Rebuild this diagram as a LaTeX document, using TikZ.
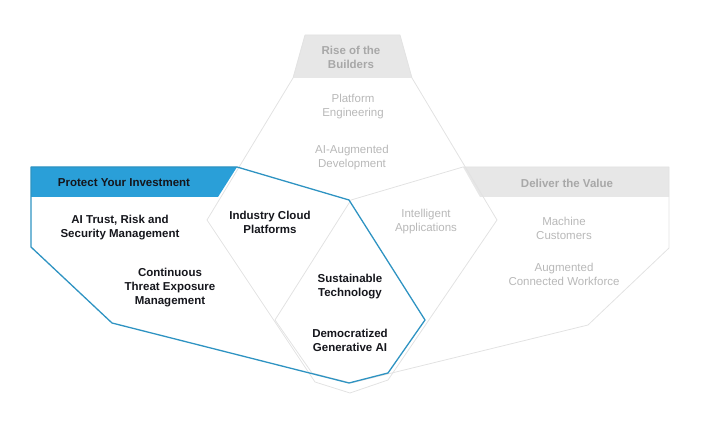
\documentclass[tikz,border=0pt]{standalone}
\usepackage{fontspec}
\setmainfont{Liberation Sans}
\usetikzlibrary{calc}
\definecolor{protectblue}{HTML}{2A9FD8}
\definecolor{protectline}{HTML}{2E93C2}
\definecolor{headgray}{HTML}{E7E7E7}
\definecolor{edgegray}{HTML}{E2E2E2}
\definecolor{fadetext}{HTML}{B8B8B8}
\definecolor{headtext}{HTML}{A8A8A8}
\definecolor{darktext}{HTML}{15161C}
\newcommand{\trend}[4]{\node[trend] (#1) at ( #2 , #3 ) {#4};}
\newcommand{\fadetrend}[4]{\node[fadetrend] (#1) at ( #2 , #3 ) {#4};}
\newcommand{\heading}[5]{\node[#2] (#1) at ( #3 , #4 ) {#5};}
\tikzset{
  trend/.style={align=center, inner sep=0pt, text=darktext,
    font=\fontsize{11.5}{14}\selectfont\bfseries},
  fadetrend/.style={align=center, inner sep=0pt, text=fadetext,
    font=\fontsize{11.5}{14}\selectfont},
  bluehead/.style={trend},
  grayhead/.style={trend, text=headtext},
  faintedge/.style={draw=edgegray, line width=0.8pt, line join=round},
  blueedge/.style={draw=protectline, line width=1.3pt, line join=round}
}

\begin{document}
\begin{tikzpicture}[x=1pt, y=-1pt]

        \useasboundingbox (0,0) rectangle (715,430);

        % header bands
        \fill[headgray] (305,35) -- (400,35) -- (412,78) -- (293,78) -- cycle;
        \fill[headgray] (463,167) -- (669,167) -- (669,197) -- (480,197) -- cycle;
        \fill[protectblue] (31,167) -- (237,167) -- (218,197) -- (31,197) -- cycle;

        % rise of the builders
        \draw[faintedge] (305,35) -- (400,35) -- (412,78) -- (497,220) -- (388,380)
            -- (350,393) -- (315,382) -- (207,220) -- (293,78) -- cycle;

        % deliver the value
        \draw[faintedge] (669,167) -- (463,167) -- (351,200) -- (275,320) -- (312,373)
            -- (351,383) -- (588,325) -- (669,248) -- cycle;

        % protect your investment
        \draw[blueedge] (31,167) -- (237,167) -- (349,200) -- (425,320) -- (388,373)
            -- (349,383) -- (112,323) -- (31,247) -- cycle;

        % headings
        \heading{rise}{grayhead}{351}{57}{Rise of the\\Builders}
        \heading{protect}{bluehead}{124}{183}{Protect Your Investment}
        \heading{deliver}{grayhead}{567}{183}{Deliver the Value}

        % trends
        \fadetrend{platform}{353}{107}{Platform\\Engineering}
        \fadetrend{augdev}{352}{158}{AI-Augmented\\Development}
        \trend{trism}{120}{228}{AI Trust, Risk and\\Security Management}
        \trend{ctem}{170}{288}{Continuous\\Threat Exposure\\Management}
        \trend{cloud}{270}{222}{Industry Cloud\\Platforms}
        \fadetrend{intapps}{426}{222}{Intelligent\\Applications}
        \trend{sustain}{350}{287}{Sustainable\\Technology}
        \trend{genai}{350}{340}{Democratized\\Generative AI}
        \fadetrend{machine}{564}{228}{Machine\\Customers}
        \fadetrend{workforce}{564}{274}{Augmented\\Connected Workforce}

\end{tikzpicture}
\end{document}
